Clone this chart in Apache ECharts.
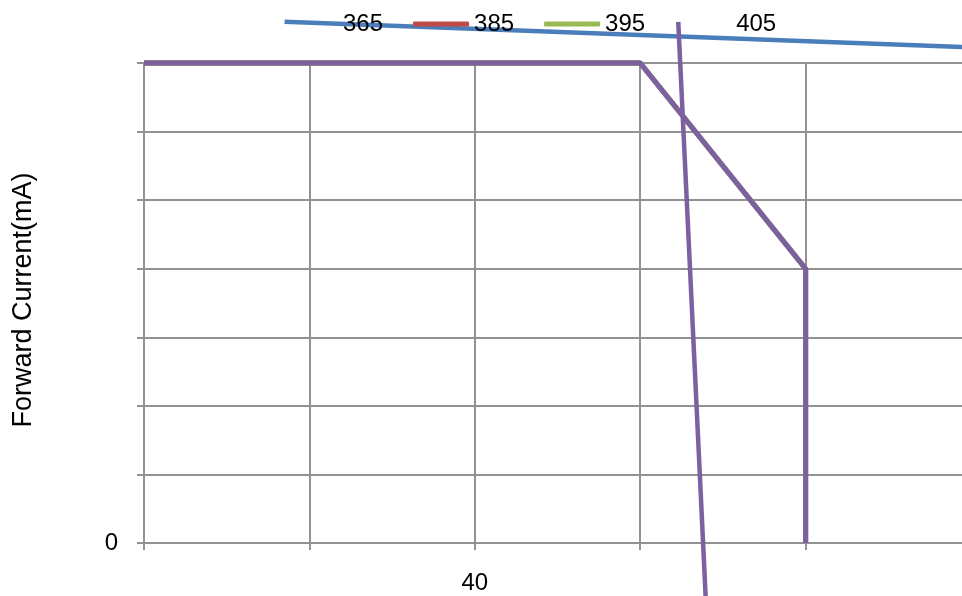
<!DOCTYPE html>
<html>
<head>
<meta charset="utf-8">
<script src="https://cdn.jsdelivr.net/npm/echarts@6/dist/echarts.min.js"></script>
<style>html,body{margin:0;padding:0;background:#fff;}#c{width:962px;height:596px;}</style>
</head>
<body>
<div id="c"></div>
<script>
// ---- data ----
const seriesNames = ['365', '385', '395', '405'];
const seriesColors = ['#4A7EBB', '#BE4B48', '#98B954', '#7D60A0'];
const derating365 = [[0, 700], [60, 700], [80, 400], [80, 0]];
const derating385 = [[0, 700], [60, 700], [80, 400], [80, 0]];
const derating395 = [[0, 700], [60, 700], [80, 400], [80, 0]];
const derating405 = [[0, 700], [60, 700], [80, 400], [80, 0]];
// stretched legend-key strokes seen in the reference (365 and 405)
const strayLine365 = [[17, 760], [100, 723]];
const strayLine405 = [[64.6, 760], [68, -100]];
const xLabelValues = [40];
const yLabelValues = [0];
const yAxisTitle = 'Forward Current(mA)';

const FONT = "'Liberation Sans', Arial, sans-serif";
const GRID_COLOR = '#929292';
const LINE_W = 5;

const chart = echarts.init(document.getElementById('c'));
const mainData = [derating365, derating385, derating395, derating405];

const series = seriesNames.map((n, i) => ({
  name: n, type: 'line', data: mainData[i], showSymbol: false, symbol: 'none',
  lineStyle: { color: seriesColors[i], width: LINE_W }, itemStyle: { color: seriesColors[i] },
  z: 3 + i, clip: false
}));
series.push({
  name: 'stray365', type: 'line', data: strayLine365, showSymbol: false, symbol: 'none',
  lineStyle: { color: seriesColors[0], width: 4.5 }, clip: false, z: 2
});
series.push({
  name: 'stray405', type: 'line', data: strayLine405, showSymbol: false, symbol: 'none',
  lineStyle: { color: seriesColors[3], width: 4.5 }, clip: false, z: 8
});

chart.setOption({
  animation: false,
  backgroundColor: '#fff',
  grid: { left: 144, width: 827, top: 63, height: 480, containLabel: false, outerBoundsMode: 'none' },
  legend: {
    left: 277, top: 7,
    itemWidth: 56, itemHeight: 5, itemGap: 30,
    textStyle: { fontFamily: FONT, fontSize: 24, color: '#000' },
    data: seriesNames.map((n, i) => ({
      name: n,
      icon: 'roundRect',
      itemStyle: { color: (i === 0 || i === 3) ? 'rgba(0,0,0,0)' : seriesColors[i] }
    }))
  },
  xAxis: {
    type: 'value', min: 0, max: 100, interval: 20,
    axisLine: { show: true, lineStyle: { color: GRID_COLOR, width: 2 } },
    axisTick: { show: true, length: 7, lineStyle: { color: GRID_COLOR, width: 2 } },
    splitLine: { show: true, lineStyle: { color: GRID_COLOR, width: 2 } },
    axisLabel: {
      margin: 28, fontFamily: FONT, fontSize: 24, color: '#000',
      formatter: v => xLabelValues.includes(v) ? String(v) : ''
    }
  },
  yAxis: {
    type: 'value', min: 0, max: 700, interval: 100,
    name: yAxisTitle, nameLocation: 'middle', nameGap: 107,
    nameTextStyle: { fontFamily: FONT, fontSize: 27, color: '#000', padding: [0, 0, 0, 6] },
    axisLine: { show: true, lineStyle: { color: GRID_COLOR, width: 2 } },
    axisTick: { show: true, length: 7, lineStyle: { color: GRID_COLOR, width: 2 } },
    splitLine: { show: true, lineStyle: { color: GRID_COLOR, width: 2 } },
    axisLabel: {
      margin: 26, fontFamily: FONT, fontSize: 24, color: '#000',
      formatter: v => yLabelValues.includes(v) ? String(v) : ''
    }
  },
  series: series
});
</script>
</body>
</html>
